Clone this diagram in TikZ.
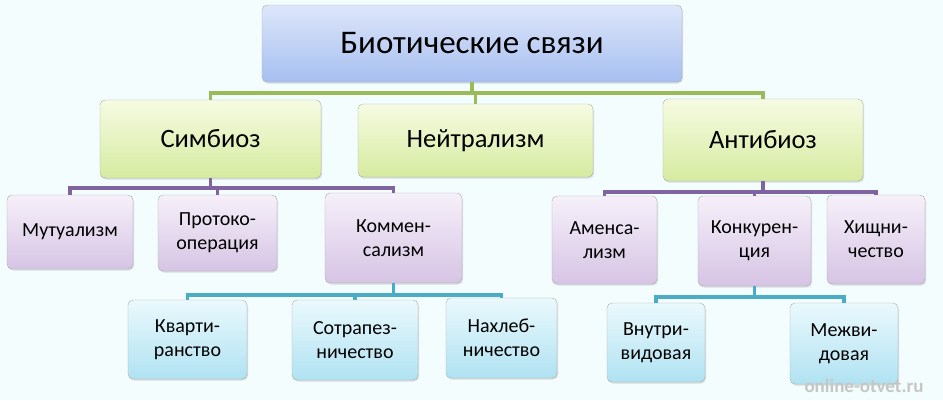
\documentclass[tikz,border=0pt]{standalone}
\usepackage{fontspec}
\setmainfont{Carlito}
\usetikzlibrary{shadows}

\definecolor{bgcol}{RGB}{244,253,254}
\definecolor{rootlo}{RGB}{166,191,240}
\definecolor{rootup}{RGB}{222,230,250}
\definecolor{grplo}{RGB}{214,235,160}
\definecolor{grpup}{RGB}{246,251,226}
\definecolor{kindlo}{RGB}{214,196,228}
\definecolor{kindup}{RGB}{246,240,250}
\definecolor{sublo}{RGB}{176,226,242}
\definecolor{subup}{RGB}{234,249,253}
\definecolor{greenlink}{RGB}{155,187,89}
\definecolor{purplelink}{RGB}{128,100,162}
\definecolor{teallink}{RGB}{75,172,198}

\tikzset{
  box/.style={draw=gray!65, rounded corners=5pt, align=center, inner sep=0pt,
    drop shadow={shadow xshift=1pt, shadow yshift=-1.5pt, opacity=0.25}},
  rootbox/.style={box, top color=rootup, bottom color=rootlo, font=\fontsize{33}{37}\selectfont},
  grpbox/.style={box, top color=grpup, bottom color=grplo, font=\fontsize{26.5}{30}\selectfont},
  kindbox/.style={box, top color=kindup, bottom color=kindlo, font=\fontsize{20}{24}\selectfont},
  subbox/.style={box, top color=subup, bottom color=sublo, font=\fontsize{20}{24}\selectfont},
  link/.style={line width=3.2pt}
}

\begin{document}
\begin{tikzpicture}[x=1pt,y=1pt]
 \fill[bgcol] (0,0) rectangle (943,-400);
 \useasboundingbox (0,0) rectangle (943,-400);

 % top
 \node[rootbox, minimum width=420pt, minimum height=77pt] (root) at (472,-43.5) {Биотические связи};

 % groups
 \node[grpbox, minimum width=221pt, minimum height=78pt] (sym) at (210.5,-139) {Симбиоз};
 \node[grpbox, minimum width=235pt, minimum height=73pt] (neu) at (475.5,-140.5) {Нейтрализм};
 \node[grpbox, minimum width=200pt, minimum height=82pt] (ant) at (763,-140) {Антибиоз};

 % kinds
 \node[kindbox, minimum width=126pt, minimum height=74pt] (mut) at (70,-232) {Мутуализм};
 \node[kindbox, minimum width=119pt, minimum height=76pt] (pro) at (217.5,-233) {Протоко-\\операция};
 \node[kindbox, minimum width=137pt, minimum height=90pt] (kom) at (393.5,-238) {Коммен-\\сализм};
 \node[kindbox, minimum width=105pt, minimum height=88pt] (ame) at (604.5,-240) {Аменса-\\лизм};
 \node[kindbox, minimum width=113pt, minimum height=90pt] (kon) at (754.5,-241) {Конкурен-\\ция};
 \node[kindbox, minimum width=98pt, minimum height=89pt] (hish) at (876,-239.5) {Хищни-\\чество};

 % sub kinds
 \node[subbox, minimum width=119pt, minimum height=79pt] (kv) at (187.5,-339.5) {Кварти-\\ранство};
 \node[subbox, minimum width=126pt, minimum height=80pt] (sot) at (355,-340) {Сотрапез-\\ничество};
 \node[subbox, minimum width=111pt, minimum height=80pt] (nah) at (501.5,-338) {Нахлеб-\\ничество};
 \node[subbox, minimum width=98pt, minimum height=79pt] (vnu) at (656,-342.5) {Внутри-\\видовая};
 \node[subbox, minimum width=108pt, minimum height=81pt] (mej) at (844,-343.5) {Межви-\\довая};

 % buses
 \coordinate (gbus) at (0,-93);
 \coordinate (pbusl) at (0,-188);
 \coordinate (pbusr) at (0,-192);
 \coordinate (tbusl) at (0,-295);
 \coordinate (tbusr) at (0,-297);

 \draw[link, greenlink] (sym.north) |- (ant.north |- gbus) -- (ant.north);
 \draw[link, greenlink] (root.south) -- (root.south |- gbus);
 \draw[link, greenlink] (neu.north) -- (neu.north |- gbus);

 \draw[link, purplelink] (mut.north) |- (kom.north |- pbusl) -- (kom.north);
 \draw[link, purplelink] (pro.north) -- (pro.north |- pbusl);
 \draw[link, purplelink] (sym.south) -- (sym.south |- pbusl);

 \draw[link, purplelink] (ame.north) |- (hish.north |- pbusr) -- (hish.north);
 \draw[link, purplelink] (kon.north) -- (kon.north |- pbusr);
 \draw[link, purplelink] (ant.south) -- (ant.south |- pbusr);

 \draw[link, teallink] (kv.north) |- (nah.north |- tbusl) -- (nah.north);
 \draw[link, teallink] (sot.north) -- (sot.north |- tbusl);
 \draw[link, teallink] (kom.south) -- (kom.south |- tbusl);

 \draw[link, teallink] (vnu.north) |- (mej.north |- tbusr) -- (mej.north);
 \draw[link, teallink] (kon.south) -- (kon.south |- tbusr);

 \node[font=\bfseries\fontsize{19}{22}\selectfont, text=gray!45] (mark) at (864,-386) {online-otvet.ru};
\end{tikzpicture}
\end{document}
